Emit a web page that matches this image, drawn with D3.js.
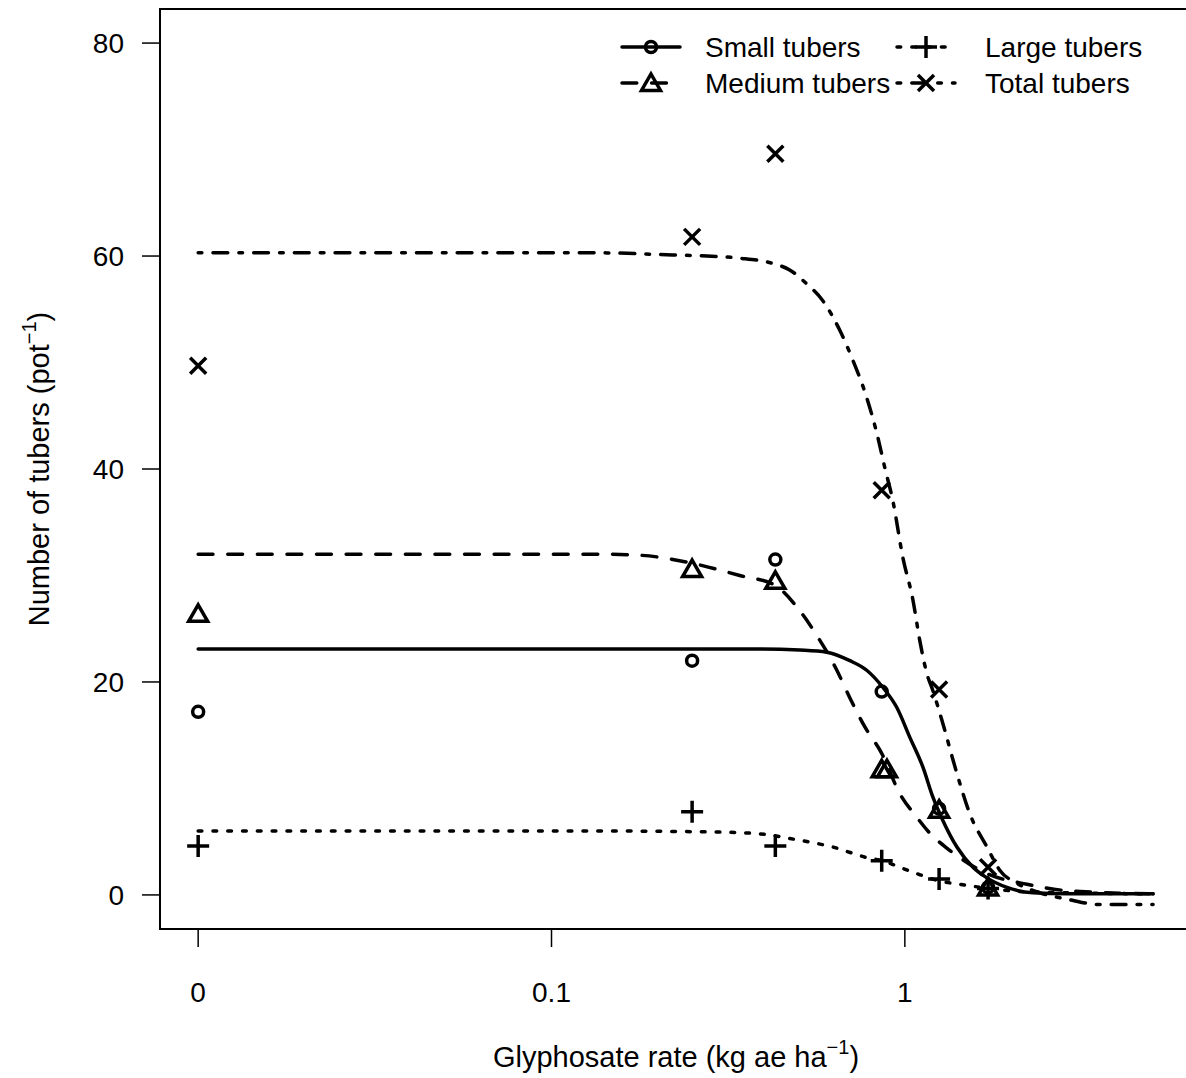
<!DOCTYPE html>
<html>
<head>
<meta charset="utf-8">
<script src="https://cdn.jsdelivr.net/npm/d3@7"></script>
<style>
  body { margin: 0; background: #fff; }
  text { font-family: "Liberation Sans", Arial, sans-serif; fill: #000; }
</style>
</head>
<body>
<svg id="chart" width="1186" height="1078"></svg>
<script>
// observed means (dose 0 is drawn at 0.01, like drc does)
var doses = [0, 0.25, 0.43, 0.86, 1.25, 1.72];
var mediumDoses = [0, 0.25, 0.43, 0.86, 0.89, 1.25, 1.72];
var smallObs = [17.2, 22.0, 31.5, 19.1, 8.1, 0.7];
var mediumObs = [26.4, 30.6, 29.5, 11.8, 11.8, 8.0, 0.7];
var largeObs = [4.6, 7.8, 4.6, 3.2, 1.5, 0.6];
var totalObs = [49.7, 61.8, 69.6, 38.0, 19.3, 2.6];

// fitted curves, [dose, tubers]
var smallCurve = [[0.01, 23.1], [0.2, 23.1], [0.39, 23.1], [0.504, 23.0], [0.601, 22.8], [0.699, 22.0],
  [0.78, 21.1], [0.866, 19.5], [0.949, 17.6], [1.033, 14.8], [1.125, 12.0], [1.2, 9.2], [1.281, 7.0],
  [1.404, 4.5], [1.559, 2.6], [1.708, 1.6], [1.946, 0.7], [2.305, 0.2], [2.876, 0.1], [5.04, 0.1]];
var mediumCurve = [[0.01, 32.0], [0.137, 32.0], [0.178, 31.9], [0.246, 31.2], [0.341, 30.0], [0.428, 29.1],
  [0.504, 26.7], [0.575, 23.9], [0.605, 22.7], [0.642, 21.1], [0.699, 18.5], [0.77, 15.8], [0.86, 13.3],
  [0.968, 9.5], [1.081, 7.3], [1.162, 6.0], [1.315, 4.4], [1.43, 3.5], [1.708, 2.0], [2.216, 1.0],
  [2.876, 0.4], [5.04, 0.1]];
var largeCurve = [[0.01, 6.0], [0.137, 6.0], [0.3, 5.9], [0.4, 5.7], [0.472, 5.3], [0.55, 4.9], [0.625, 4.5],
  [0.713, 3.9], [0.78, 3.5], [0.866, 3.2], [0.968, 2.6], [1.081, 2.0], [1.257, 1.3], [1.43, 1.0],
  [1.65, 0.7], [2.2, 0.3], [5.04, 0.1]];
var totalCurve = [[0.01, 60.3], [0.137, 60.3], [0.22, 60.1], [0.275, 60.0], [0.341, 59.8], [0.423, 59.3],
  [0.472, 58.7], [0.527, 57.4], [0.586, 55.8], [0.655, 53.0], [0.713, 50.2], [0.78, 46.7], [0.834, 43.3],
  [0.878, 40.1], [0.925, 37.0], [0.987, 31.7], [1.054, 27.7], [1.102, 23.9], [1.154, 20.8], [1.2, 19.2],
  [1.281, 16.1], [1.404, 11.4], [1.528, 7.6], [1.708, 4.5], [1.858, 2.3], [2.076, 1.1], [2.411, 0.2],
  [2.876, -0.4], [3.567, -0.9], [5.04, -0.9]];

var xTicks = [0.01, 0.1, 1];
var xTickLabels = ["0", "0.1", "1"];
var yTicks = [0, 20, 40, 60, 80];

var LW = 3.5;
var U = 3.7; // one lty unit
var series = [
  { name: "Small tubers", doses: doses, obs: smallObs, curve: smallCurve, dash: null, pch: "circle" },
  { name: "Medium tubers", doses: mediumDoses, obs: mediumObs, curve: mediumCurve, dash: [4*U, 4*U], pch: "triangle" },
  { name: "Large tubers", doses: doses, obs: largeObs, curve: largeCurve, dash: [1*U, 3*U], pch: "plus" },
  { name: "Total tubers", doses: doses, obs: totalObs, curve: totalCurve, dash: [1*U, 3*U, 4*U, 3*U], pch: "cross" }
];

var svg = d3.select("#chart");
var boxL = 160, boxR = 1190, boxT = 9, boxB = 929;

var x = d3.scaleLog().domain([Math.pow(10, -2.108), Math.pow(10, 0.807)]).range([boxL, boxR]);
var y = d3.scaleLinear().domain([-3.2, 83.2]).range([boxB, boxT]);
var xv = function(d) { return d === 0 ? 0.01 : d; };

// box
svg.append("rect")
  .attr("x", boxL).attr("y", boxT)
  .attr("width", boxR - boxL).attr("height", boxB - boxT)
  .attr("fill", "none").attr("stroke", "#000").attr("stroke-width", 2);

// y axis
var yAxis = svg.append("g");
yAxis.selectAll("line").data(yTicks).enter().append("line")
  .attr("x1", boxL - 18).attr("x2", boxL)
  .attr("y1", function(d) { return y(d); }).attr("y2", function(d) { return y(d); })
  .attr("stroke", "#000").attr("stroke-width", 1.5);
yAxis.selectAll("text").data(yTicks).enter().append("text")
  .attr("x", 124).attr("y", function(d) { return y(d) + 10; })
  .attr("text-anchor", "end").attr("font-size", 28)
  .text(function(d) { return d; });

// x axis
var xAxis = svg.append("g");
xAxis.selectAll("line").data(xTicks).enter().append("line")
  .attr("x1", function(d) { return x(d); }).attr("x2", function(d) { return x(d); })
  .attr("y1", boxB).attr("y2", boxB + 18)
  .attr("stroke", "#000").attr("stroke-width", 1.5);
xAxis.selectAll("text").data(xTicks).enter().append("text")
  .attr("x", function(d) { return x(d); }).attr("y", 1002)
  .attr("text-anchor", "middle").attr("font-size", 28)
  .text(function(d, i) { return xTickLabels[i]; });

// axis titles
var xt = svg.append("text").attr("x", 676).attr("y", 1067)
  .attr("text-anchor", "middle").attr("font-size", 29);
xt.append("tspan").text("Glyphosate rate (kg ae ha");
xt.append("tspan").attr("font-size", 20).attr("dy", -13).text("\u22121");
xt.append("tspan").attr("dy", 13).text(")");

var yt = svg.append("text").attr("transform", "translate(49,469) rotate(-90)")
  .attr("text-anchor", "middle").attr("font-size", 29);
yt.append("tspan").text("Number of tubers (pot");
yt.append("tspan").attr("font-size", 20).attr("dy", -13).text("\u22121");
yt.append("tspan").attr("dy", 13).text(")");

// markers
var marker = function(g, type, cx, cy) {
  var m;
  if (type === "circle") {
    m = g.append("circle").attr("cx", cx).attr("cy", cy).attr("r", 5.5);
  } else if (type === "triangle") {
    m = g.append("path").attr("d", "M" + cx + "," + (cy - 9) + "L" + (cx + 9.5) + "," + (cy + 7.5) +
      "L" + (cx - 9.5) + "," + (cy + 7.5) + "Z");
  } else if (type === "plus") {
    m = g.append("path").attr("d", "M" + (cx - 11) + "," + cy + "H" + (cx + 11) +
      "M" + cx + "," + (cy - 11) + "V" + (cy + 11));
  } else {
    m = g.append("path").attr("d", "M" + (cx - 8) + "," + (cy - 8) + "L" + (cx + 8) + "," + (cy + 8) +
      "M" + (cx + 8) + "," + (cy - 8) + "L" + (cx - 8) + "," + (cy + 8));
  }
  m.attr("fill", "none").attr("stroke", "#000").attr("stroke-width", LW);
};

var line = d3.line()
  .x(function(d) { return x(d[0]); })
  .y(function(d) { return y(d[1]); })
  .curve(d3.curveMonotoneX);

var plot = svg.append("g");
series.forEach(function(s) {
  plot.append("path")
    .attr("d", line(s.curve))
    .attr("fill", "none").attr("stroke", "#000").attr("stroke-width", LW)
    .attr("stroke-linecap", "round").attr("stroke-linejoin", "round")
    .attr("stroke-dasharray", s.dash ? s.dash.join(",") : null);
  s.obs.forEach(function(v, i) {
    marker(plot, s.pch, x(xv(s.doses[i])), y(v));
  });
});

// legend
var legendPos = [[622, 47, 705], [622, 83, 705], [897, 47, 985], [897, 83, 985]];
var lg = svg.append("g");
series.forEach(function(s, i) {
  var p = legendPos[i];
  lg.append("line").attr("x1", p[0]).attr("x2", p[0] + 58).attr("y1", p[1]).attr("y2", p[1])
    .attr("stroke", "#000").attr("stroke-width", LW).attr("stroke-linecap", "round")
    .attr("stroke-dasharray", s.dash ? s.dash.join(",") : null);
  marker(lg, s.pch, p[0] + 29, p[1]);
  lg.append("text").attr("x", p[2]).attr("y", p[1] + 10).attr("font-size", 28).text(s.name);
});
</script>
</body>
</html>
